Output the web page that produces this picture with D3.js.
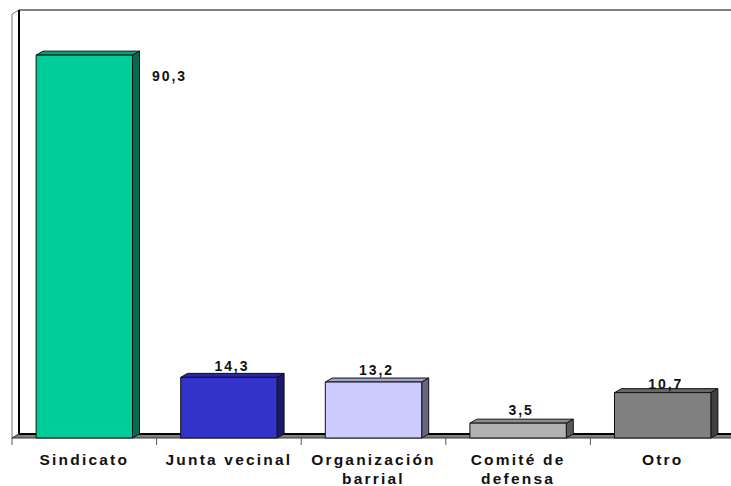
<!DOCTYPE html>
<html>
<head>
<meta charset="utf-8">
<script src="https://cdnjs.cloudflare.com/ajax/libs/d3/7.8.5/d3.min.js"></script>
<style>
  html, body { margin: 0; padding: 0; background: #fff; overflow: hidden; }
  text { font-family: "Liberation Sans", Arial, sans-serif; font-weight: bold; fill: #111; }
</style>
</head>
<body>
<svg id="chart" width="731" height="486"></svg>
<script>
const categories = ["Sindicato", "Junta vecinal", "Organización barrial", "Comité de defensa", "Otro"];
const values = [90.3, 14.3, 13.2, 3.5, 10.7];
const valueLabels = ["90,3", "14,3", "13,2", "3,5", "10,7"];
const fronts = ["#00CC99", "#3333CC", "#CCCCFF", "#B2B2B2", "#808080"];
const tops = ["#00A37A", "#29299F", "#A3A3CC", "#8E8E8E", "#666666"];
const sides = ["#006B50", "#1A1A66", "#666680", "#595959", "#404040"];

const depthX = 7, depthY = 4;
const svg = d3.select("#chart");

const x = d3.scaleBand().domain(categories).range([12, 735]).paddingInner(1 / 3).paddingOuter(1 / 6);
const y = d3.scaleLinear().domain([0, 100]).range([438, 14]);
const step = x.step();

// walls and floor
const x0 = x.range()[0], x1 = x.range()[1], yb = y(0), yt = y(100);
svg.append("path").attr("d", `M${x0},${yb}V${yt}L${x0 + depthX},${yt - depthY}V${yb - depthY}Z`)
    .attr("fill", "#fff").attr("stroke", "#777").attr("stroke-width", 1);
svg.append("path").attr("d", `M${x0},${yb}L${x0 + depthX},${yb - depthY}H${x1 + depthX}L${x1},${yb}Z`)
    .attr("fill", "#808080").attr("stroke", "#333").attr("stroke-width", 1);
svg.append("path").attr("d", `M${x0 + depthX},${yb - depthY}V${yt - depthY}`)
    .attr("stroke", "#000").attr("stroke-width", 2).attr("fill", "none");
svg.append("path").attr("d", `M${x0 + depthX},${yt - depthY}H${x1}`)
    .attr("stroke", "#000").attr("stroke-width", 1).attr("fill", "none");
svg.append("path").attr("d", `M${x0 + depthX},${yb - depthY}H${x1 + depthX}`)
    .attr("stroke", "#000").attr("stroke-width", 2).attr("fill", "none");

// ticks between the categories
svg.append("g").selectAll("line").data(d3.range(categories.length + 1)).join("line")
    .attr("x1", d => x0 + d * step).attr("x2", d => x0 + d * step)
    .attr("y1", yb).attr("y2", yb + 7)
    .attr("stroke", "#555").attr("stroke-width", 1);

// bars
const bar = svg.append("g").selectAll("g").data(categories).join("g")
    .attr("stroke", "#111").attr("stroke-width", 1).attr("stroke-linejoin", "round");
bar.append("path")
    .attr("d", (d, i) => `M${x(d)},${y(values[i])}l${depthX},${-depthY}h${x.bandwidth()}l${-depthX},${depthY}Z`)
    .attr("fill", (d, i) => tops[i]);
bar.append("path")
    .attr("d", (d, i) => `M${x(d) + x.bandwidth()},${y(values[i])}l${depthX},${-depthY}V${yb - depthY}l${-depthX},${depthY}Z`)
    .attr("fill", (d, i) => sides[i]);
bar.append("rect")
    .attr("x", d => x(d)).attr("y", (d, i) => y(values[i]))
    .attr("width", x.bandwidth()).attr("height", (d, i) => yb - y(values[i]))
    .attr("fill", (d, i) => fronts[i]);

// value labels; the first one sits beside the bar, the others above it
const labelRaise = [0, 6, 7, 8, 4];
svg.append("g").selectAll("text").data(categories).join("text")
    .attr("x", (d, i) => i === 0 ? x(d) + x.bandwidth() + 37 : x(d) + x.bandwidth() / 2 + 3)
    .attr("y", (d, i) => i === 0 ? y(values[i]) + 26 : y(values[i]) - labelRaise[i])
    .attr("text-anchor", "middle")
    .attr("font-size", 14).attr("letter-spacing", 1.9)
    .text((d, i) => valueLabels[i]);

// category labels, split on two lines where they would not fit
const split = d => {
    if (d === "Organización barrial") return ["Organización", "barrial"];
    if (d === "Comité de defensa") return ["Comité de", "defensa"];
    return [d];
};
const catLabel = svg.append("g").selectAll("text").data(categories).join("text")
    .attr("text-anchor", "middle")
    .attr("font-size", 15.5).attr("letter-spacing", 2.2);
catLabel.selectAll("tspan").data(d => split(d).map(t => ({ t, d }))).join("tspan")
    .attr("x", d => x(d.d) + x.bandwidth() / 2)
    .attr("y", (d, i) => 465 + i * 19)
    .text(d => d.t);
</script>
</body>
</html>
